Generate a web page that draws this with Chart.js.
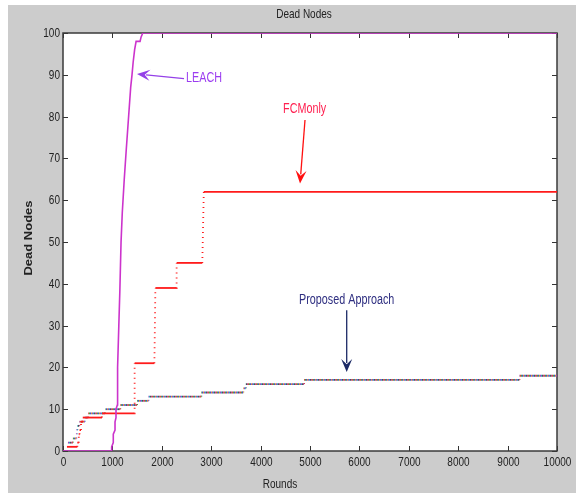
<!DOCTYPE html>
<html>
<head>
<meta charset="utf-8">
<script src="https://cdn.jsdelivr.net/npm/chart.js@4.4.0/dist/chart.umd.min.js"></script>
<style>
  html, body { margin: 0; padding: 0; background: #fff; }
</style>
</head>
<body>
<canvas id="deadNodes" width="576" height="493"></canvas>
<script>
// values (rounds -> number of dead nodes)
const leachRounds = [0, 985, 985, 1018, 1018, 1053, 1053, 1073, 1073, 1100, 1105, 1130, 1150, 1175, 1200, 1240, 1280, 1316, 1340, 1370, 1397, 1420, 1450, 1480, 1560, 1580, 1615, 10000];
const leachDead   = [0,   0,   1,    2,    4,    5,    7,    8,   10,   11,   20,   30,   38,   50,   57,   65,   72,   78,   82,   87,   90,   93,   96,   98,   98,   99,  100,   100];

// FCMonly: flat steps, start round / end round / dead nodes
const fcmStart = [80, 290, 320, 335, 365, 400, 790, 1450, 1870, 2300, 2850];
const fcmEnd   = [290, 320, 335, 365, 400, 790, 1440, 1850, 2290, 2820, 10000];
const fcmDead  = [1, 2, 4, 5, 7, 8, 9, 21, 39, 45, 62];

// proposed approach steps
const propStart = [100, 200, 270, 280, 290, 330, 440, 510, 860, 1160, 1500, 1730, 2800, 3650, 3700, 4880, 9240];
const propEnd   = [200, 270, 280, 290, 330, 440, 510, 850, 1160, 1500, 1730, 2800, 3650, 3700, 4880, 9240, 10000];
const propDead  = [2, 3, 4, 5, 6, 7, 8, 9, 10, 11, 12, 13, 14, 15, 16, 17, 18];

const FONT = '"Liberation Sans", Arial, sans-serif';
const SQUEEZE = 0.77; // the figure's text is narrow

// text labels with arrows, in data units
const notes = [
  {text: 'LEACH', at: [2490, 89.1], align: 'left', tail: [2450, 89.1], tip: [1498, 90.2], color: '#9b3cf0', arrow: '#9440e8'},
  {text: 'FCMonly', at: [4892, 81.7], align: 'center', tail: [4899, 79.2], tip: [4798, 64.0], color: '#ff2050', arrow: '#ff1010'},
  {text: 'Proposed Approach', at: [5743, 36.1], align: 'center', tail: [5743, 33.7], tip: [5743, 18.9], color: '#2e2e80', arrow: '#1c2a66'}
];

const toPoints = (xs, ys) => xs.map((x, i) => ({x: x, y: ys[i]}));
const stepPoints = (start, end, dead) => start.flatMap((s, i) => [{x: s, y: dead[i]}, {x: end[i], y: dead[i]}]);

// speckled colour for the proposed approach line
const makeSpeckle = () => {
  const c = document.createElement('canvas');
  c.width = 8; c.height = 2;
  const g = c.getContext('2d');
  const cols = ['#d04848', '#48a048', '#4848d0', '#c8a030', '#9a40c0', '#30a0b8', '#505050', '#b05090'];
  cols.forEach((col, i) => { g.fillStyle = col; g.fillRect(i, 0, 1, 2); });
  return g.createPattern(c, 'repeat');
};

const dotted = ctx => ctx.p0.parsed.y !== ctx.p1.parsed.y ? [1, 4] : undefined;

function squeezedText(ctx, text, x, y, size, color, align, baseline, rotated, weight) {
  ctx.save();
  ctx.translate(x, y);
  if (rotated) {
    ctx.rotate(-Math.PI / 2);
    ctx.scale(1, SQUEEZE);
  } else {
    ctx.scale(SQUEEZE, 1);
  }
  ctx.font = (weight || 'normal') + ' ' + size + 'px ' + FONT;
  ctx.fillStyle = color;
  ctx.textAlign = align;
  ctx.textBaseline = baseline;
  ctx.fillText(text, 0, 0);
  ctx.restore();
}

function drawArrow(ctx, x0, y0, x1, y1, color) {
  const a = Math.atan2(y1 - y0, x1 - x0);
  const len = 13, half = 5.5;
  const cx = Math.cos(a), sy = Math.sin(a);
  ctx.save();
  ctx.strokeStyle = color;
  ctx.fillStyle = color;
  ctx.lineWidth = 1.3;
  ctx.beginPath();
  ctx.moveTo(x0, y0);
  ctx.lineTo(x1 - cx * len * 0.7, y1 - sy * len * 0.7);
  ctx.stroke();
  const bx = x1 - cx * len, by = y1 - sy * len;
  const nx = -sy * half, ny = cx * half;
  ctx.beginPath();
  ctx.moveTo(x1, y1);
  ctx.lineTo(bx + nx, by + ny);
  ctx.lineTo(x1 - cx * len * 0.6, y1 - sy * len * 0.6);
  ctx.lineTo(bx - nx, by - ny);
  ctx.closePath();
  ctx.fill();
  ctx.restore();
}

const figurePlugin = {
  id: 'figure',
  beforeDraw(chart) {
    const {ctx, chartArea: ca} = chart;
    ctx.save();
    ctx.fillStyle = '#ffffff';
    ctx.fillRect(0, 0, chart.width, chart.height);
    ctx.fillStyle = '#cccccc';
    ctx.fillRect(8, 5, chart.width - 8, chart.height - 5);
    ctx.fillStyle = '#ffffff';
    ctx.fillRect(ca.left, ca.top, ca.right - ca.left, ca.bottom - ca.top);
    ctx.restore();
  },
  beforeDatasetsDraw(chart) {
    const {ctx, chartArea: ca, scales} = chart;
    ctx.save();
    ctx.strokeStyle = '#333333';
    ctx.lineWidth = 1;
    // inward ticks on all four sides, labels left and bottom
    scales.x.ticks.forEach(t => {
      const px = Math.round(scales.x.getPixelForValue(t.value)) + 0.5;
      ctx.beginPath();
      ctx.moveTo(px, ca.bottom); ctx.lineTo(px, ca.bottom - 5);
      ctx.moveTo(px, ca.top); ctx.lineTo(px, ca.top + 5);
      ctx.stroke();
      squeezedText(ctx, String(t.value), px, ca.bottom + 5, 13, '#222222', 'center', 'top');
    });
    scales.y.ticks.forEach(t => {
      const py = Math.round(scales.y.getPixelForValue(t.value)) + 0.5;
      ctx.beginPath();
      ctx.moveTo(ca.left, py); ctx.lineTo(ca.left + 5, py);
      ctx.moveTo(ca.right, py); ctx.lineTo(ca.right - 5, py);
      ctx.stroke();
      squeezedText(ctx, String(t.value), ca.left - 3, py, 13, '#222222', 'right', 'middle');
    });
    ctx.lineWidth = 1.5;
    ctx.strokeStyle = '#3a3a3a';
    ctx.strokeRect(ca.left, ca.top, ca.right - ca.left, ca.bottom - ca.top);
    // titles
    squeezedText(ctx, 'Dead Nodes', 304, 14, 13, '#222222', 'center', 'middle');
    squeezedText(ctx, 'Rounds', 280, 484, 13, '#222222', 'center', 'middle');
    squeezedText(ctx, 'Dead Nodes', 29.5, 238, 13, '#222222', 'center', 'middle', true, 'bold');
    ctx.restore();
  },
  afterDatasetsDraw(chart) {
    const {ctx, scales} = chart;
    const X = v => scales.x.getPixelForValue(v);
    const Y = v => scales.y.getPixelForValue(v);
    notes.forEach(n => {
      drawArrow(ctx, X(n.tail[0]), Y(n.tail[1]), X(n.tip[0]), Y(n.tip[1]), n.arrow);
      squeezedText(ctx, n.text, X(n.at[0]), Y(n.at[1]), 14, n.color, n.align, 'middle');
    });
  }
};

new Chart(document.getElementById('deadNodes').getContext('2d'), {
  type: 'line',
  data: {
    datasets: [
      {
        label: 'LEACH',
        data: toPoints(leachRounds, leachDead),
        borderColor: '#cc33cc',
        borderWidth: 1.6,
        pointRadius: 0,
        tension: 0
      },
      {
        label: 'FCMonly',
        data: stepPoints(fcmStart, fcmEnd, fcmDead),
        borderColor: '#ff1a1a',
        borderWidth: 1.8,
        pointRadius: 0,
        segment: {borderDash: dotted}
      },
      {
        label: 'Proposed Approach',
        data: stepPoints(propStart, propEnd, propDead),
        borderColor: makeSpeckle(),
        borderWidth: 1.8,
        pointRadius: 0,
        segment: {borderDash: dotted}
      }
    ]
  },
  options: {
    responsive: false,
    animation: false,
    layout: {padding: {left: 63, right: 19, top: 33, bottom: 42}},
    plugins: {
      legend: {display: false},
      tooltip: {enabled: false},
      title: {display: false}
    },
    scales: {
      x: {
        type: 'linear',
        min: 0,
        max: 10000,
        grid: {display: false, drawTicks: false},
        border: {display: false},
        ticks: {stepSize: 1000, display: false},
        afterFit: s => { s.height = 0; }
      },
      y: {
        min: 0,
        max: 100,
        grid: {display: false, drawTicks: false},
        border: {display: false},
        ticks: {stepSize: 10, display: false},
        afterFit: s => { s.width = 0; }
      }
    }
  },
  plugins: [figurePlugin]
});
</script>
</body>
</html>
